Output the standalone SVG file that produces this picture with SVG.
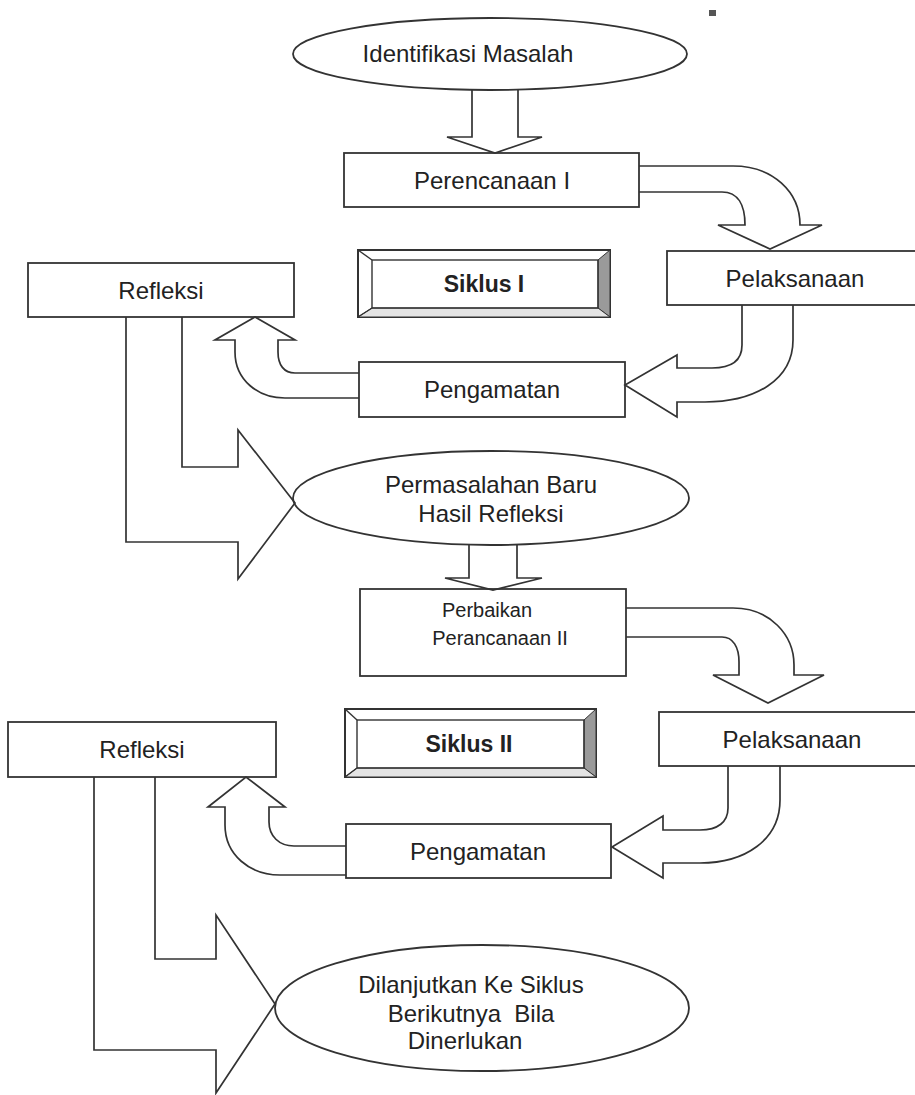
<svg xmlns="http://www.w3.org/2000/svg" width="915" height="1095" viewBox="0 0 915 1095">
<style>
.bx{fill:#fff;stroke:#333;stroke-width:1.8}
.el{fill:#fff;stroke:#333;stroke-width:1.8}
.ar{fill:none;stroke:#333;stroke-width:1.7;stroke-linejoin:miter}
.t{font-family:"Liberation Sans",Arial,sans-serif;font-size:24px;fill:#222;text-anchor:middle}
.ts{font-family:"Liberation Sans",Arial,sans-serif;font-size:20px;fill:#222;text-anchor:middle}
.tb{font-family:"Liberation Sans",Arial,sans-serif;font-size:23px;font-weight:bold;fill:#222;text-anchor:middle}
.bv{fill:none;stroke:#333;stroke-width:1.4}
</style>
<rect width="915" height="1095" fill="#fff"/>
<rect x="709" y="10" width="7" height="6" fill="#555"/>

<g id="identifikasi">
<ellipse class="el" cx="490" cy="54" rx="197" ry="36"/>
<text class="t" x="468" y="62">Identifikasi Masalah</text>
</g>

<g id="perencanaan1">
<rect class="bx" x="344" y="153" width="295" height="54"/>
<text class="t" x="492" y="189">Perencanaan I</text>
</g>

<g id="siklus1">
<rect x="358" y="250" width="252" height="67" fill="#fff" stroke="#333" stroke-width="2"/>
<polygon points="598,260 610,250 610,317 598,308" fill="#9a9a9a" stroke="#333" stroke-width="1"/>
<polygon points="372,308 598,308 610,317 358,317" fill="#e4e4e4" stroke="#333" stroke-width="1"/>
<rect class="bv" x="372" y="260" width="226" height="48"/>
<line class="bv" x1="358" y1="250" x2="372" y2="260"/>
<line class="bv" x1="358" y1="317" x2="372" y2="308"/>
<text class="tb" x="484" y="292">Siklus I</text>
</g>

<g id="refleksi1">
<rect class="bx" x="28" y="263" width="266" height="54"/>
<text class="t" x="161" y="299">Refleksi</text>
</g>

<g id="pelaksanaan1">
<rect class="bx" x="667" y="251" width="260" height="54"/>
<text class="t" x="795" y="287">Pelaksanaan</text>
</g>

<g id="pengamatan1">
<rect class="bx" x="359" y="362" width="266" height="55"/>
<text class="t" x="492" y="398">Pengamatan</text>
</g>

<g id="permasalahan">
<ellipse class="el" cx="491" cy="498" rx="198" ry="47"/>
<text class="t" x="491" y="493">Permasalahan Baru</text>
<text class="t" x="491" y="522">Hasil Refleksi</text>
</g>

<g id="perbaikan">
<rect class="bx" x="360" y="589" width="266" height="87"/>
<text class="ts" x="487" y="617">Perbaikan</text>
<text class="ts" x="500" y="645">Perancanaan II</text>
</g>

<g id="siklus2">
<rect x="345" y="709" width="251" height="68" fill="#fff" stroke="#333" stroke-width="2"/>
<polygon points="584,720 596,709 596,777 584,768" fill="#9a9a9a" stroke="#333" stroke-width="1"/>
<polygon points="357,768 584,768 596,777 345,777" fill="#e4e4e4" stroke="#333" stroke-width="1"/>
<rect class="bv" x="357" y="720" width="227" height="48"/>
<line class="bv" x1="345" y1="709" x2="357" y2="720"/>
<line class="bv" x1="345" y1="777" x2="357" y2="768"/>
<text class="tb" x="469" y="752">Siklus II</text>
</g>

<g id="refleksi2">
<rect class="bx" x="8" y="722" width="268" height="55"/>
<text class="t" x="142" y="758">Refleksi</text>
</g>

<g id="pelaksanaan2">
<rect class="bx" x="659" y="712" width="270" height="54"/>
<text class="t" x="792" y="748">Pelaksanaan</text>
</g>

<g id="pengamatan2">
<rect class="bx" x="346" y="824" width="265" height="54"/>
<text class="t" x="478" y="860">Pengamatan</text>
</g>

<g id="dilanjutkan">
<ellipse class="el" cx="482" cy="1008" rx="207" ry="63"/>
<text class="t" x="471" y="993">Dilanjutkan Ke Siklus</text>
<text class="t" x="471" y="1022" xml:space="preserve">Berikutnya  Bila</text>
<text class="t" x="465" y="1049">Dinerlukan</text>
</g>

<g id="connectors">
<path class="ar" d="M472,90 V137 H447 L495,153 L542,137 H518 V90"/>
<path class="ar" d="M639,166 H733 C773,166 800,192 800,225 H822 L770,249 L718,225 H745 C745,205 738,192 722,192 H639"/>
<path class="ar" d="M793,305 V340 C793,380 755,402 705,402 H677 V417 L625,385 L677,355 V368 H712 C732,368 742,360 742,345 V305"/>
<path class="ar" d="M359,373 H295 C284,373 278,365 278,352 V340 H295 L255,317 L215,340 H235 V352 C235,380 258,398 285,398 H359"/>
<path class="ar" d="M126,317 V542 H238 V579 L295,503 L238,430 V467 H182 V317"/>
<path class="ar" d="M469,545 V578 H445 L493,590 L542,578 H517 V545"/>
<path class="ar" d="M626,608 H733 C770,608 794,635 794,665 V675 H824 L768,703 L713,675 H739 V662 C739,647 733,637 722,637 H626"/>
<path class="ar" d="M780,766 V800 C780,840 745,863 700,863 H663 V878 L612,847 L663,816 V830 H700 C718,830 728,822 728,808 V766"/>
<path class="ar" d="M346,846 H294 C279,846 269,836 269,822 V807 H285 L246,777 L208,807 H225 V825 C225,855 250,875 280,875 H346"/>
<path class="ar" d="M94,777 V1050 H216 V1093 L275,1004 L216,915 V959 H155 V777"/>
</g>
</svg>
